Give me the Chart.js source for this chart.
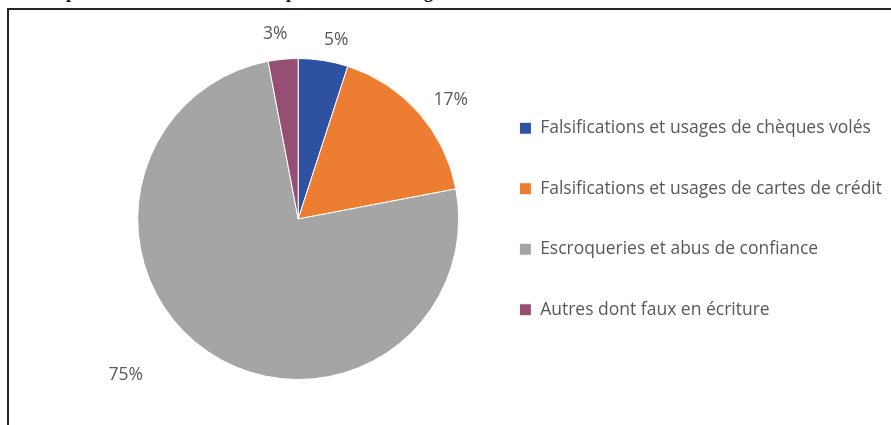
<!DOCTYPE html>
<html>
<head>
<meta charset="utf-8">
<script src="https://cdn.jsdelivr.net/npm/chart.js@4/dist/chart.umd.min.js"></script>
<style>
  html, body { margin: 0; padding: 0; background: #fff; width: 891px; height: 425px; overflow: hidden; }
  #frame { position: absolute; left: 7px; top: 8px; width: 900px; height: 430px;
           border-left: 2px solid #262626; border-top: 2px solid #262626; box-sizing: border-box; }
  #head { position: absolute; left: 0; top: 0; width: 891px; height: 6px; overflow: hidden;
          font: bold 18px/18px "Liberation Serif", serif; color: #111; }
  #head span { position: absolute; top: -17px; }
  #wrap { position: absolute; left: 0; top: 0; width: 891px; height: 425px; }
</style>
</head>
<body>
<div id="head"><span style="left:66px">p</span><span style="left:286px">p</span><span style="left:424px">g</span></div>
<div id="frame"></div>
<div id="wrap"><canvas id="chart" width="891" height="425"></canvas></div>
<script>
// Categories of fraud and their share of the total (%)
const categories = [
  'Falsifications et usages de chèques volés',
  'Falsifications et usages de cartes de crédit',
  'Escroqueries et abus de confiance',
  'Autres dont faux en écriture'
];
const shares = [5, 17, 75, 3];
const sliceColors = ['#2E51A1', '#ED7D31', '#A5A5A5', '#954F72'];

// Placement of each percentage label outside its slice:
// angular shift (degrees) and distance beyond the rim (px)
const labelPlacement = [
  { da: 3.0, d: 22 },
  { da: 3.4, d: 33 },
  { da: 13.7, d: 72 },
  { da: -1.7, d: 26 }
];

const FONT = '"Open Sans", "Liberation Sans", sans-serif';

const outsideLabels = {
  id: 'outsideLabels',
  afterDatasetsDraw(chart) {
    const ctx = chart.ctx;
    const meta = chart.getDatasetMeta(0);
    ctx.save();
    ctx.font = '17.5px ' + FONT;
    ctx.fillStyle = '#595959';
    ctx.textAlign = 'center';
    ctx.textBaseline = 'middle';
    meta.data.forEach((arc, i) => {
      const p = arc.getProps(['x', 'y', 'startAngle', 'endAngle', 'outerRadius'], true);
      const place = labelPlacement[i];
      const a = (p.startAngle + p.endAngle) / 2 + place.da * Math.PI / 180;
      const r = p.outerRadius + place.d;
      const value = chart.data.datasets[0].data[i];
      ctx.fillText(value + '%', p.x + Math.cos(a) * r, p.y + Math.sin(a) * r);
    });
    ctx.restore();
  }
};

new Chart(document.getElementById('chart'), {
  type: 'pie',
  data: {
    labels: categories,
    datasets: [{
      data: shares,
      backgroundColor: sliceColors,
      borderColor: '#ffffff',
      borderWidth: 1
    }]
  },
  options: {
    responsive: false,
    devicePixelRatio: 1,
    animation: false,
    layout: { padding: { top: 58, bottom: 45, left: 120, right: -1 } },
    plugins: {
      tooltip: { enabled: false },
      legend: {
        position: 'right',
        maxWidth: 600,
        labels: {
          boxWidth: 12,
          boxHeight: 12,
          padding: 43,
          color: '#595959',
          font: { family: FONT, size: 17.5 }
        }
      }
    }
  },
  plugins: [outsideLabels]
});
</script>
</body>
</html>
